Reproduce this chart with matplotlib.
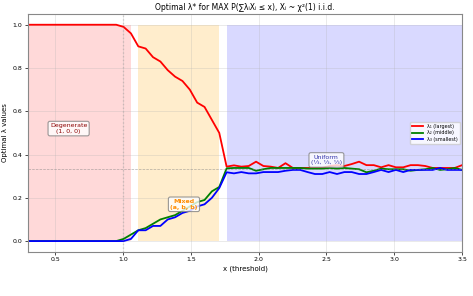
import numpy as np
import matplotlib
matplotlib.use("Agg")
import matplotlib.pyplot as plt

# ── data ────────────────────────────────────────────────
x = np.linspace(0.3, 3.5, 60)   # threshold grid, 60 points

lam1 = [1.0] * 13 + [
    0.99, 0.96, 0.90, 0.89, 0.85, 0.83, 0.79, 0.76, 0.74, 0.70,
    0.64, 0.62, 0.56, 0.50,
    0.344, 0.350, 0.344, 0.347, 0.367, 0.347, 0.344, 0.338, 0.360, 0.338,
    0.338, 0.338, 0.338, 0.338, 0.347, 0.351, 0.347, 0.356, 0.367, 0.351,
    0.351, 0.341, 0.351, 0.341, 0.341, 0.351, 0.351, 0.347, 0.338, 0.338,
    0.338, 0.338, 0.351,
]
lam2 = [0.0] * 13 + [
    0.01, 0.03, 0.05, 0.06, 0.08, 0.10, 0.11, 0.12, 0.14, 0.16,
    0.18, 0.19, 0.23, 0.25,
    0.336, 0.338, 0.338, 0.338, 0.325, 0.332, 0.338, 0.338, 0.338, 0.338,
    0.338, 0.335, 0.335, 0.335, 0.338, 0.335, 0.338, 0.335, 0.332, 0.318,
    0.325, 0.335, 0.332, 0.332, 0.332, 0.325, 0.329, 0.332, 0.338, 0.329,
    0.332, 0.338, 0.329,
]
lam3 = [0.0] * 13 + [
    0.0, 0.01, 0.05, 0.05, 0.07, 0.07, 0.10, 0.11, 0.13, 0.14,
    0.16, 0.17, 0.20, 0.245,
    0.318, 0.313, 0.319, 0.313, 0.313, 0.319, 0.319, 0.319, 0.325, 0.329,
    0.329, 0.319, 0.310, 0.310, 0.319, 0.310, 0.319, 0.319, 0.310, 0.310,
    0.319, 0.329, 0.319, 0.329, 0.319, 0.329, 0.329, 0.329, 0.329, 0.338,
    0.329, 0.329, 0.329,
]

# regime index ranges on the grid
deg_end, mix_start, mix_end, uni_start = 14, 15, 26, 27

# ── plot ────────────────────────────────────────────────
fig = plt.figure(figsize=(4.73, 2.96), dpi=100)
ax = fig.add_axes([0.059, 0.149, 0.918, 0.804])

ax.fill_between([x[0], x[deg_end]], 0, 1, color="red", alpha=0.15, lw=0)
ax.fill_between([x[mix_start], x[mix_end]], 0, 1, color="orange", alpha=0.2, lw=0)
ax.fill_between([x[uni_start], x[-1]], 0, 1, color="blue", alpha=0.15, lw=0)

ax.plot(x, lam1, color="red", lw=1.3, label="λ₁ (largest)")
ax.plot(x, lam2, color="green", lw=1.3, label="λ₂ (middle)")
ax.plot(x, lam3, color="blue", lw=1.3, label="λ₃ (smallest)")

ax.axhline(1 / 3, color="gray", ls="--", lw=0.5, alpha=0.6)
ax.axvline(1.0, color="gray", ls=":", lw=1.0, alpha=0.3)

box = dict(boxstyle="round,pad=0.3", fc="white", ec="gray", alpha=0.8, lw=0.8)
ax.text(0.6, 0.52, "Degenerate\n(1, 0, 0)", ha="center", va="center",
        fontsize=4.5, color="darkred", bbox=box)
ax.text(1.45, 0.17, "Mixed\n(a, b, b)", ha="center", va="center",
        fontsize=4.5, color="darkorange", fontweight="bold", bbox=box)
ax.text(2.5, 0.375, "Uniform\n(⅓, ⅓, ⅓)", ha="center", va="center",
        fontsize=4.5, color="#3333aa", bbox=box)

ax.set_xlim(0.3, 3.5)
ax.set_ylim(-0.05, 1.05)
ax.set_xticks([0.5, 1.0, 1.5, 2.0, 2.5, 3.0, 3.5])
ax.set_yticks([0.0, 0.2, 0.4, 0.6, 0.8, 1.0])
ax.tick_params(labelsize=4.5, length=2, width=0.5, pad=2)
ax.grid(True, alpha=0.3, lw=0.6)
for s in ax.spines.values():
    s.set_color("#888888")
    s.set_linewidth(0.8)

ax.set_xlabel("x (threshold)", fontsize=5, labelpad=2)
ax.set_ylabel("Optimal λ values", fontsize=5, labelpad=3)
ax.set_title("Optimal λ* for MAX P(∑λᵢXᵢ ≤ x), Xᵢ ~ χ²(1) i.i.d.",
             fontsize=5.5, pad=3)
ax.legend(loc="center right", fontsize=3.5, framealpha=0.8,
          handlelength=2.2, borderpad=0.4, labelspacing=0.3)

fig.savefig("out.png", dpi=100)
